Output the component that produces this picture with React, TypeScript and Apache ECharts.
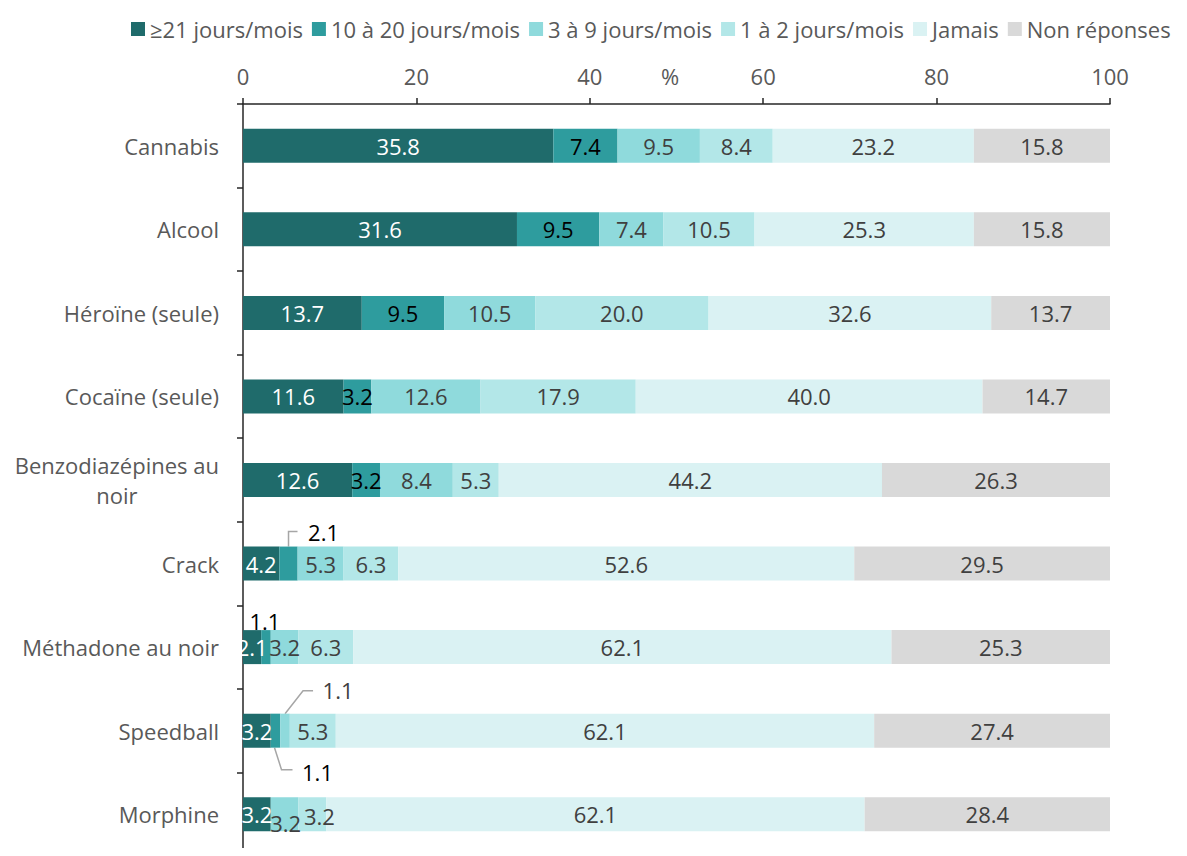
import React, { useEffect, useRef } from "react";
import * as echarts from "echarts";

const categories = [
  "Cannabis",
  "Alcool",
  "Héroïne (seule)",
  "Cocaïne (seule)",
  "Benzodiazépines au noir",
  "Crack",
  "Méthadone au noir",
  "Speedball",
  "Morphine",
];
const seriesNames = [
  "≥21 jours/mois",
  "10 à 20 jours/mois",
  "3 à 9 jours/mois",
  "1 à 2 jours/mois",
  "Jamais",
  "Non réponses",
];
const s21 = [35.8, 31.6, 13.7, 11.6, 12.6, 4.2, 2.1, 3.2, 3.2];
const s10 = [7.4, 9.5, 9.5, 3.2, 3.2, 2.1, 1.1, 1.1, 0];
const s3 = [9.5, 7.4, 10.5, 12.6, 8.4, 5.3, 3.2, 1.1, 3.2];
const s1 = [8.4, 10.5, 20.0, 17.9, 5.3, 6.3, 6.3, 5.3, 3.2];
const jamais = [23.2, 25.3, 32.6, 40.0, 44.2, 52.6, 62.1, 62.1, 62.1];
const nonRep = [15.8, 15.8, 13.7, 14.7, 26.3, 29.5, 25.3, 27.4, 28.4];
const xTicks = [0, 20, 40, 60, 80, 100];

const allSeries = [s21, s10, s3, s1, jamais, nonRep];
const colors = ["#1F6B6B", "#2E9C9E", "#8FDADC", "#B3E7E8", "#DAF2F3", "#D9D9D9"];
const labelColors = ["#FFFFFF", "#000000", "#404040", "#404040", "#404040", "#404040"];

// callouts: [seriesIndex, categoryIndex, dx, dy, leader]
type Callout = { s: number; c: number; dx: number; dy: number; leader: string };
const callouts: Callout[] = [
  { s: 1, c: 5, dx: 35, dy: -32, leader: "elbowUp" },
  { s: 1, c: 6, dx: -1, dy: -26, leader: "none" },
  { s: 2, c: 7, dx: 53, dy: -41, leader: "diagUp" },
  { s: 1, c: 7, dx: 42, dy: 41, leader: "diagDown" },
  { s: 2, c: 8, dx: 1, dy: 9, leader: "none" },
  { s: 3, c: 8, dx: 7, dy: 2, leader: "none" },
];

const FONT = "'Open Sans', 'Noto Sans', sans-serif";
const FS = 22;

export default function App() {
  const ref = useRef<HTMLDivElement>(null);
  useEffect(() => {
    if (!ref.current) return;
    const chart = echarts.init(ref.current, null, { renderer: "svg" });
    const series = allSeries.map((arr, si) => ({
      name: seriesNames[si],
      type: "bar",
      stack: "total",
      barWidth: 34,
      itemStyle: { color: colors[si] },
      label: {
        show: true,
        position: "inside",
        color: labelColors[si],
        fontSize: FS,
        fontFamily: FONT,
        formatter: (p: any) => (p.value ? Number(p.value).toFixed(1) : ""),
      },
      data: arr.map((v, ci) => {
        const co = callouts.find((c) => c.s === si && c.c === ci);
        if (co) {
          return {
            value: v,
            label: { offset: [co.dx, co.dy] },
          };
        }
        return v;
      }),
    }));

    chart.setOption({
      animation: false,
      textStyle: { fontFamily: FONT },
      legend: {
        top: 13,
        left: 126,
        itemWidth: 14,
        itemHeight: 14,
        itemGap: 9,
        icon: "rect",
        textStyle: { fontSize: FS, color: "#595959", fontFamily: FONT },
        data: seriesNames,
      },
      grid: { left: 243, right: 77, top: 104, bottom: 0, containLabel: false },
      xAxis: {
        type: "value",
        position: "top",
        min: xTicks[0],
        max: xTicks[xTicks.length - 1],
        interval: 20,
        name: "%",
        nameLocation: "middle",
        nameGap: 17,
        nameMoveOverlap: false,
        nameTextStyle: {
          fontSize: FS,
          color: "#595959",
          fontFamily: FONT,
          padding: [0, 13, 0, 0],
          verticalAlign: "bottom",
        },
        axisLine: { show: true, lineStyle: { color: "#262626", width: 1.5 } },
        axisTick: { show: true, length: 6, lineStyle: { color: "#262626", width: 1.5 } },
        splitLine: { show: false },
        axisLabel: { fontSize: FS, color: "#595959", margin: 17, fontFamily: FONT },
      },
      yAxis: {
        type: "category",
        inverse: true,
        data: categories,
        axisLine: { show: true, lineStyle: { color: "#262626", width: 1.5 } },
        axisTick: { show: true, length: 6, lineStyle: { color: "#262626", width: 1.5 } },
        axisLabel: {
          margin: 24,
          fontSize: FS,
          color: "#595959",
          fontFamily: FONT,
          formatter: (v: string) =>
            v === "Benzodiazépines au noir" ? "{c|Benzodiazépines au}\n{c|noir}" : v,
          rich: {
            c: { align: "center", fontSize: FS, color: "#595959", fontFamily: FONT, lineHeight: 30 },
          },
        },
      },
      series,
    });

    // leader lines computed from the library's scales
    const graphics: any[] = [];
    const halfBar = 17;
    callouts.forEach((co) => {
      if (co.leader === "none") return;
      let start = 0;
      for (let k = 0; k < co.s; k++) start += allSeries[k][co.c];
      const mid = start + allSeries[co.s][co.c] / 2;
      const p = chart.convertToPixel({ gridIndex: 0 }, [mid, co.c]) as number[];
      const cx = p[0];
      const cy = p[1];
      const ly = cy + co.dy;
      let pts: number[][] = [];
      if (co.leader === "elbowUp") {
        pts = [
          [cx, cy - halfBar],
          [cx, ly],
          [cx + 9, ly],
        ];
      } else if (co.leader === "diagUp") {
        pts = [
          [cx, cy - halfBar],
          [cx + 18, ly + 1],
          [cx + 28, ly + 1],
        ];
      } else if (co.leader === "diagDown") {
        pts = [
          [cx - 1, cy + halfBar],
          [cx + 6, ly - 2],
          [cx + 17, ly - 2],
        ];
      }
      graphics.push({
        type: "polyline",
        shape: { points: pts },
        style: { stroke: "#A6A6A6", lineWidth: 1.5, fill: "none" },
        silent: true,
      });
    });
    chart.setOption({ graphic: graphics });

    return () => chart.dispose();
  }, []);
  return <div ref={ref} style={{ width: 1187, height: 856, margin: -8 }} />;
}
